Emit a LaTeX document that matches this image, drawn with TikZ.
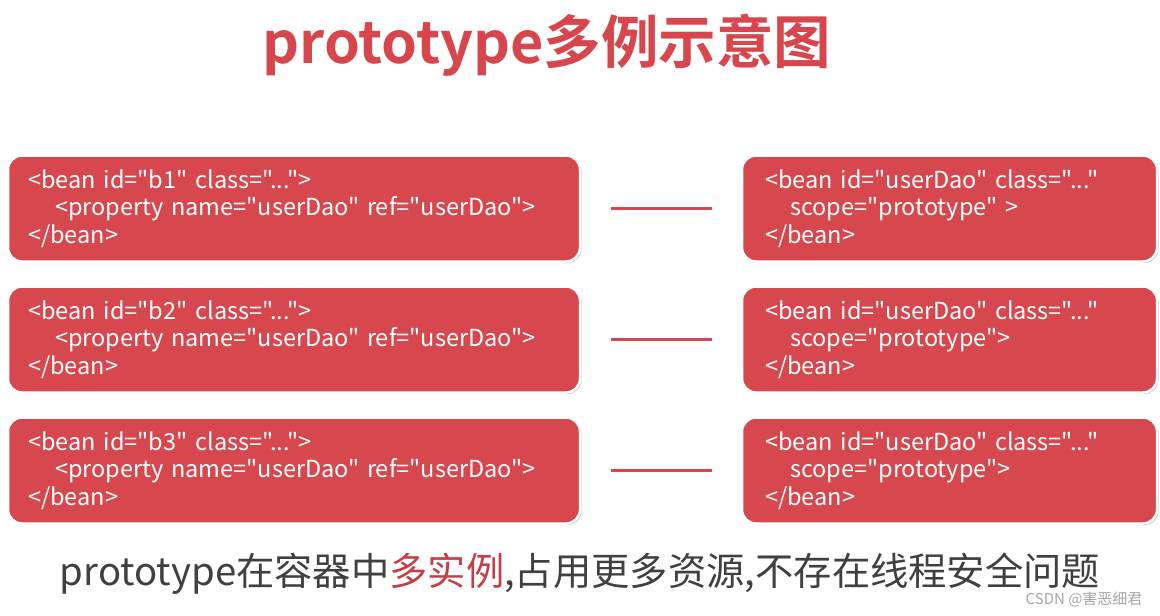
\documentclass[tikz,border=0pt]{standalone}
\usepackage{fontspec}
\setmainfont{Noto Sans CJK SC}[Ligatures=TeXOff]
\newfontfamily\cjkbold{Noto Sans CJK SC Bold}[Ligatures=TeXOff]
\usetikzlibrary{shadows}
\definecolor{beanred}{RGB}{214,72,78}
\definecolor{titlered}{RGB}{214,70,76}
\definecolor{textgray}{RGB}{64,64,64}
\definecolor{hired}{RGB}{196,62,70}
\tikzset{
  beanbox/.style={draw=white, line width=2.5pt, fill=beanred, rounded corners=14pt,
    drop shadow={opacity=0.45, shadow xshift=1.5pt, shadow yshift=-1.5pt},
    text=white, align=left, font=\fontsize{23.5}{27.5}\selectfont, inner ysep=0pt},
  leftbox/.style={beanbox, minimum width=572pt, minimum height=106pt, text width=532pt, inner xsep=20pt},
  rightbox/.style={beanbox, minimum width=415pt, minimum height=106pt, text width=369pt, inner xsep=23pt},
  link/.style={draw=beanred, line width=3pt, shorten <=30pt, shorten >=29pt}
}
\begin{document}
\begin{tikzpicture}[x=1pt,y=1pt]
\useasboundingbox (0,0) rectangle (1160,-616);
\fill[white] (0,0) rectangle (1160,-616);
\node (title) at (547,-45) {\cjkbold\fontsize{57.5}{60}\selectfont\color{titlered}prototype多例示意图};

\node[leftbox] (b1) at (294,-208.5) {<bean id="b1" class="...">\\\hspace*{27pt}<property name="userDao" ref="userDao">\\</bean>};
\node[leftbox] (b2) at (294,-339.5) {<bean id="b2" class="...">\\\hspace*{27pt}<property name="userDao" ref="userDao">\\</bean>};
\node[leftbox] (b3) at (294,-470.5) {<bean id="b3" class="...">\\\hspace*{27pt}<property name="userDao" ref="userDao">\\</bean>};

\node[rightbox] (r1) at (949.5,-208.5) {<bean id="userDao" class="..."\\\hspace*{25pt}scope="prototype" >\\</bean>};
\node[rightbox] (r2) at (949.5,-339.5) {<bean id="userDao" class="..."\\\hspace*{25pt}scope="prototype">\\</bean>};
\node[rightbox] (r3) at (949.5,-470.5) {<bean id="userDao" class="..."\\\hspace*{25pt}scope="prototype">\\</bean>};

\draw[link] (b1.east) -- (r1.west);
\draw[link] (b2.east) -- (r2.west);
\draw[link] (b3.east) -- (r3.west);

\node[text=textgray, font=\fontsize{38.3}{40}\selectfont] (note) at (580,-574) {prototype在容器中\textcolor{hired}{多实例},占用更多资源,不存在线程安全问题};
\node[text=black!35, font=\fontsize{15}{16}\selectfont, anchor=east] (mark) at (1146,-599) {CSDN @害恶细君};
\end{tikzpicture}
\end{document}
